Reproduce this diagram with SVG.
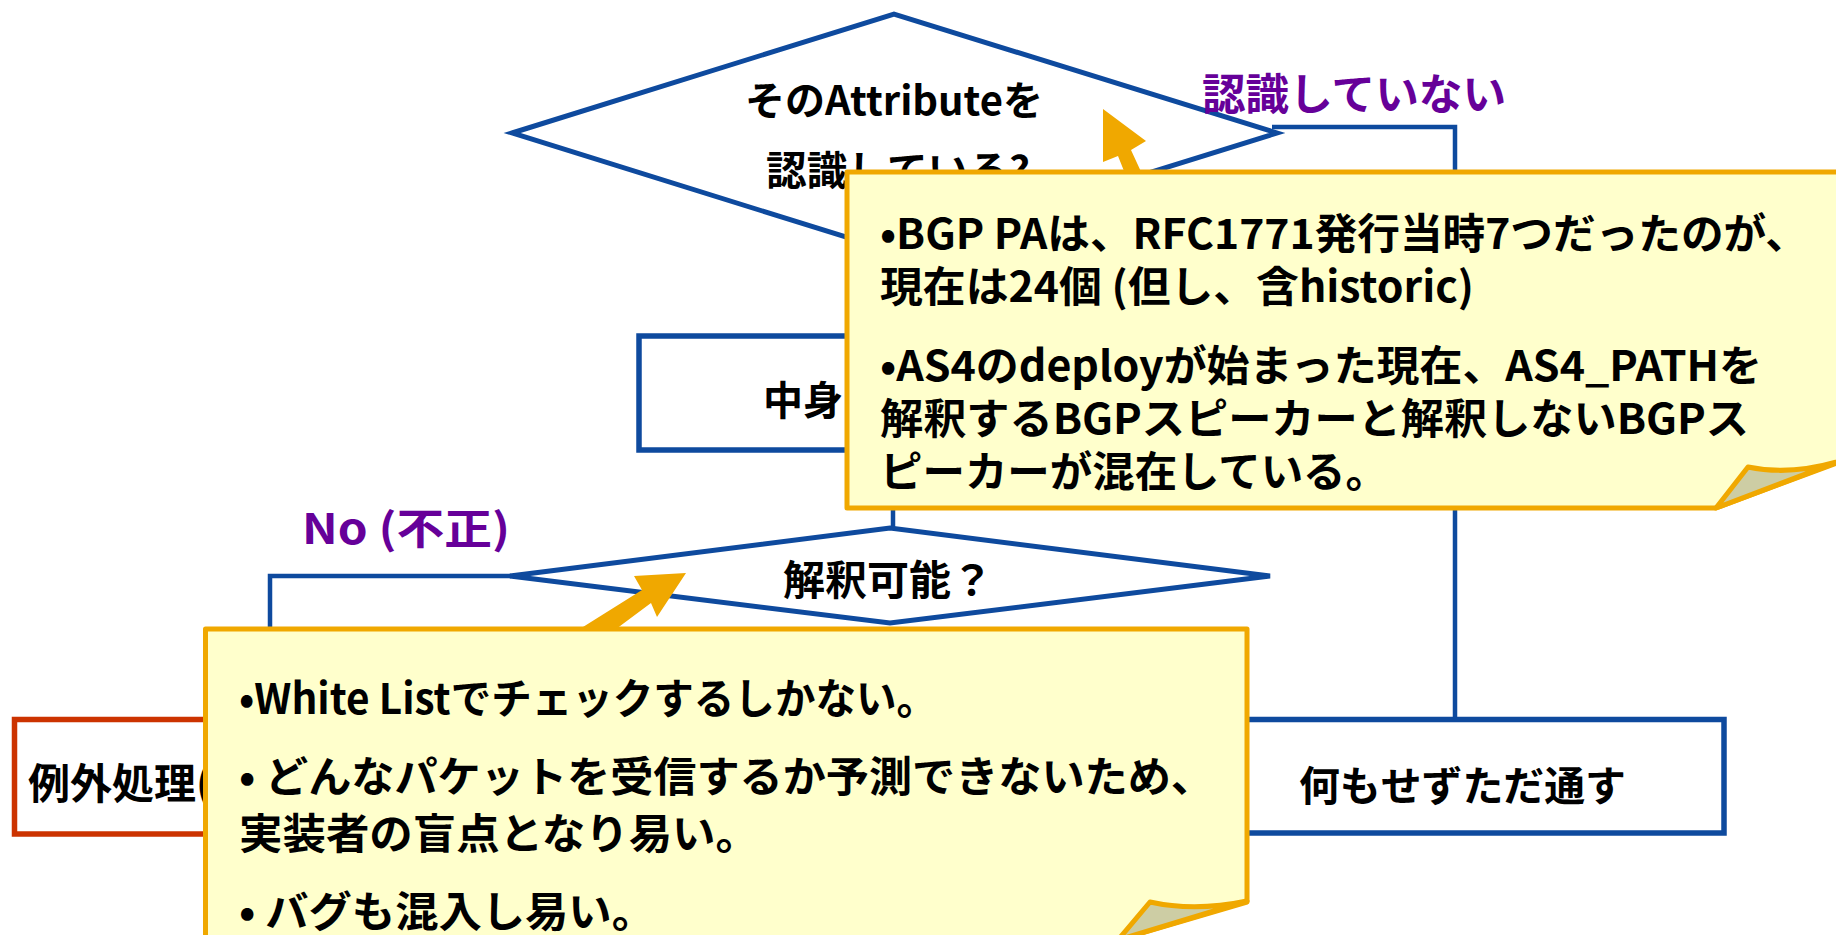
<svg xmlns="http://www.w3.org/2000/svg" width="1836" height="935" viewBox="0 0 1836 935">
<style>
.dia{fill:#fff;stroke:#0e4a9e;stroke-width:5}
.box{fill:#fff;stroke:#0e4a9e;stroke-width:5.5}
.red{fill:#fff;stroke:#cc3300;stroke-width:5.5}
.conn{fill:none;stroke:#0e4a9e;stroke-width:4.5}
.note{fill:#ffffcc;stroke:#f0a800;stroke-width:5;stroke-linejoin:round}
.fold{fill:#cdcda4;stroke:#f0a800;stroke-width:5;stroke-linejoin:round}
.arrow{fill:#f0a800}
text{font-family:"Noto Sans CJK JP","Noto Sans CJK SC",sans-serif;font-weight:bold;dominant-baseline:central}
.t{fill:#000}
.p{fill:#660099}
</style>
<rect width="1836" height="935" fill="#fff"/>
<g id="connectors">
<path class="conn" d="M1272,127 H1455 V719"/>
<path class="conn" d="M893,252 V336"/>
<path class="conn" d="M893,450 V528"/>
<path class="conn" d="M511,576 H270 V719"/>
</g>
<g id="node-recognize">
<polygon class="dia" points="512,133 894,14 1277,133 894,252"/>
<text class="t" x="745" y="98" font-size="40" textLength="298" lengthAdjust="spacingAndGlyphs">そのAttributeを</text>
<text class="t" x="766" y="168" font-size="40" textLength="264" lengthAdjust="spacingAndGlyphs">認識している?</text>
</g>
<g id="node-contents">
<rect class="box" x="639" y="336" width="510" height="114"/>
<text class="t" x="763" y="398" font-size="40">中身</text>
</g>
<g id="node-parse">
<polygon class="dia" points="510,576 890,528 1270,576 890,623"/>
<text class="t" x="783" y="577" font-size="41" textLength="210" lengthAdjust="spacingAndGlyphs">解釈可能？</text>
</g>
<g id="node-exception">
<rect class="red" x="14.5" y="719.5" width="512" height="114.5"/>
<text class="t" x="28" y="780" font-size="42">例外処理(</text>
</g>
<g id="node-pass">
<rect class="box" x="1200" y="719.5" width="524" height="113.5"/>
<text class="t" x="1299" y="783" font-size="41" textLength="327" lengthAdjust="spacingAndGlyphs">何もせずただ通す</text>
</g>
<g id="label-unrecognized">
<text class="p" x="1202" y="91" font-size="43" textLength="304" lengthAdjust="spacingAndGlyphs">認識していない</text>
</g>
<g id="label-no">
<text class="p" x="302" y="525" font-size="42" textLength="208" lengthAdjust="spacingAndGlyphs">No (不正)</text>
</g>
<g id="note-pa">
<polygon class="arrow" points="1103,109 1146,141 1131,150 1143,176 1126,176 1118,156 1103,162"/>
<path class="note" d="M847,172 H1845 V460 L1716,508 H847 Z"/>
<path class="fold" d="M1716,508 L1748,467 Q1790,476 1840,461 Z"/>
<text class="t" x="880" y="230" font-size="42" textLength="928" lengthAdjust="spacingAndGlyphs">•BGP PAは、RFC1771発行当時7つだったのが、</text>
<text class="t" x="880" y="283" font-size="42" textLength="594" lengthAdjust="spacingAndGlyphs">現在は24個 (但し、含historic)</text>
<text class="t" x="880" y="362" font-size="42" textLength="882" lengthAdjust="spacingAndGlyphs">•AS4のdeployが始まった現在、AS4_PATHを</text>
<text class="t" x="880" y="415" font-size="42" textLength="869" lengthAdjust="spacingAndGlyphs">解釈するBGPスピーカーと解釈しないBGPス</text>
<text class="t" x="880" y="468" font-size="42" textLength="508" lengthAdjust="spacingAndGlyphs">ピーカーが混在している。</text>
</g>
<g id="note-whitelist">
<polygon class="arrow" points="686,573 657,617 651,603 612,632 575,632 642,590 634,576"/>
<path class="note" d="M205.5,629 H1247 V902 L1118,940 H205.5 Z"/>
<path class="fold" d="M1118,940 L1150,902 Q1195,912 1247,901 Z"/>
<text class="t" x="239" y="695" font-size="42" textLength="698" lengthAdjust="spacingAndGlyphs">•White Listでチェックするしかない。</text>
<text class="t" x="239" y="773" font-size="42" textLength="975" lengthAdjust="spacingAndGlyphs">• どんなパケットを受信するか予測できないため、</text>
<text class="t" x="239" y="830" font-size="42" textLength="520" lengthAdjust="spacingAndGlyphs">実装者の盲点となり易い。</text>
<text class="t" x="239" y="908" font-size="42" textLength="416" lengthAdjust="spacingAndGlyphs">• バグも混入し易い。</text>
</g>
</svg>
